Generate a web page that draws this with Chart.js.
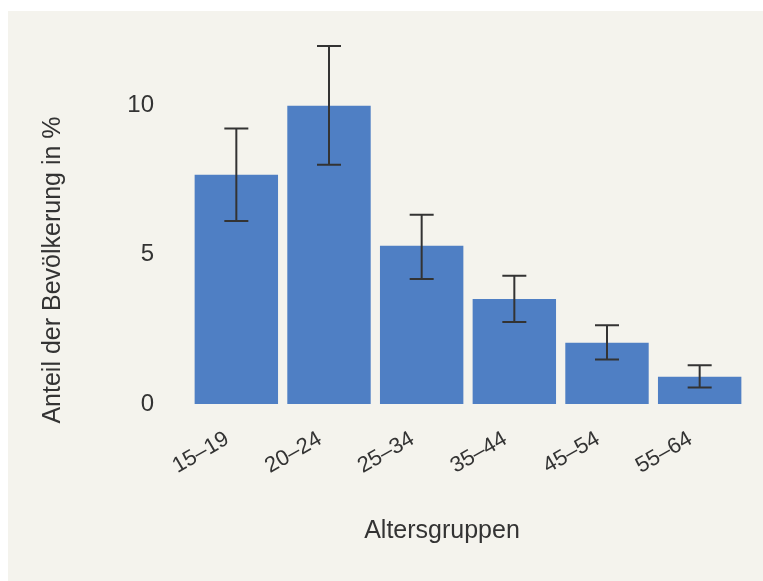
<!DOCTYPE html>
<html>
<head>
<meta charset="utf-8">
<script src="https://cdn.jsdelivr.net/npm/chart.js@4.4.0/dist/chart.umd.min.js"></script>
<style>
  html, body { margin: 0; padding: 0; background: #ffffff; }
  #panel { position: absolute; left: 8px; top: 11px; width: 755px; height: 570px; background: #f4f3ed; }
  #chart { display: block; }
</style>
</head>
<body>
<div id="panel"><canvas id="chart" width="755" height="570"></canvas></div>
<script>
const categories = ['15–19', '20–24', '25–34', '35–44', '45–54', '55–64'];
const shares = [7.68, 10.0, 5.3, 3.52, 2.05, 0.91];
const errLow = [6.13, 8.02, 4.19, 2.75, 1.49, 0.55];
const errHigh = [9.23, 12.0, 6.34, 4.3, 2.64, 1.3];
const yTicks = [0, 5, 10];
const xTitle = 'Altersgruppen';
const yTitle = 'Anteil der Bevölkerung in %';

const textColor = '#333333';
const fontFamily = '"Liberation Sans", Arial, sans-serif';

// whiskers on top of the bars
const errorBars = {
    id: 'errorBars',
    afterDatasetsDraw(chart) {
        const ctx = chart.ctx;
        const x = chart.scales.x, y = chart.scales.y;
        ctx.save();
        ctx.strokeStyle = '#333333';
        ctx.lineWidth = 2;
        categories.forEach((c, i) => {
            const px = x.getPixelForValue(i);
            const lo = y.getPixelForValue(errLow[i]);
            const hi = y.getPixelForValue(errHigh[i]);
            ctx.beginPath();
            ctx.moveTo(px, lo); ctx.lineTo(px, hi);
            ctx.moveTo(px - 12, lo); ctx.lineTo(px + 12, lo);
            ctx.moveTo(px - 12, hi); ctx.lineTo(px + 12, hi);
            ctx.stroke();
        });
        ctx.restore();
    }
};

// axis titles, placed like in the original (not centred on the plot area)
const axisTitles = {
    id: 'axisTitles',
    afterDraw(chart) {
        const ctx = chart.ctx;
        const area = chart.chartArea;
        ctx.save();
        ctx.fillStyle = textColor;
        ctx.font = '25px ' + fontFamily;
        ctx.textAlign = 'center';
        ctx.textBaseline = 'middle';
        ctx.fillText(xTitle, (area.left + area.right) / 2 - 26, area.bottom + 127);
        ctx.translate(45, area.bottom - 134);
        ctx.rotate(-Math.PI / 2);
        ctx.fillText(yTitle, 0, 0);
        ctx.restore();
    }
};

const ctx = document.getElementById('chart').getContext('2d');
const chart = new Chart(ctx, {
    type: 'bar',
    data: {
        labels: categories,
        datasets: [{
            label: 'Anteil',
            data: shares,
            backgroundColor: '#4f7fc4',
            barPercentage: 0.9,
            categoryPercentage: 1.0
        }]
    },
    options: {
        responsive: false,
        animation: false,
        layout: { padding: { top: 29, right: 17, left: 0, bottom: 0 } },
        plugins: { legend: { display: false }, tooltip: { enabled: false } },
        scales: {
            x: {
                grid: { display: false, drawTicks: false },
                border: { display: false },
                afterFit(s) { s.height = 177; s.paddingLeft = 0; s.paddingRight = 0; },
                ticks: {
                    color: textColor,
                    font: { family: fontFamily, size: 22 },
                    minRotation: 30, maxRotation: 30,
                    padding: 22,
                    labelOffset: -9
                }
            },
            y: {
                min: 0,
                max: 12.2,
                grid: { display: false, drawTicks: false },
                border: { display: false },
                afterFit(s) { s.width = 182; s.paddingTop = 0; s.paddingBottom = 0; },
                afterBuildTicks(s) { s.ticks = yTicks.map(v => ({ value: v })); },
                ticks: {
                    color: textColor,
                    font: { family: fontFamily, size: 24 },
                    padding: 36
                }
            }
        }
    },
    plugins: [errorBars, axisTitles]
});
</script>
</body>
</html>
